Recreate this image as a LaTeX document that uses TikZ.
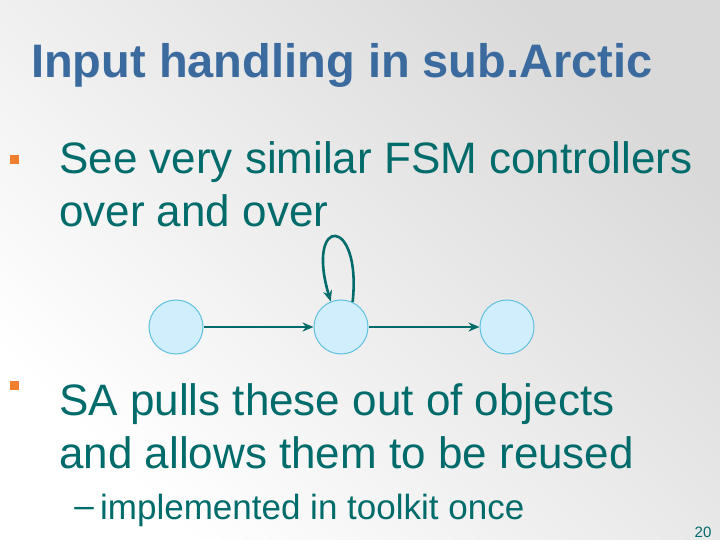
\documentclass[tikz,border=0pt]{standalone}
\usepackage{fontspec}
\setmainfont{Liberation Sans}
\usetikzlibrary{arrows.meta}
\definecolor{titleblue}{HTML}{3A6A9E}
\definecolor{bodyteal}{HTML}{006B6B}
\definecolor{bulletor}{HTML}{F08030}
\definecolor{statefill}{HTML}{D0EEFC}
\definecolor{statedraw}{HTML}{60C0E0}
\tikzset{
  state/.style={circle,draw=statedraw,fill=statefill,line width=1pt,minimum size=54pt,inner sep=0pt},
  trans/.style={draw=bodyteal,line width=2.6pt,-{Stealth[length=11pt,width=9pt]}},
  body/.style={anchor=west,align=left,text=bodyteal,font=\fontsize{44}{53}\selectfont,inner sep=0pt},
  bullet/.style={fill=bulletor,minimum size=9pt,inner sep=0pt}
}
\begin{document}
\begin{tikzpicture}[x=1pt,y=-1pt]
\shade[left color=white,right color=black!15,shading angle=135] (0,0) rectangle (720,540);
\useasboundingbox (0,0) rectangle (720,540);
\node[anchor=west,text=titleblue,font=\bfseries\fontsize{47}{54}\selectfont,inner sep=0pt] (title) at (31,65) {Input handling in sub.Arctic};
\node[bullet] (b1) at (14,160) {};
\node[body] (t1) at (59,184) {See very similar FSM controllers\\over and over};
\node[state] (s1) at (176,327) {};
\node[state] (s2) at (341,327) {};
\node[state] (s3) at (507,327) {};
\draw[trans] (s1) -- (s2);
\draw[trans] (s2) -- (s3);
\draw[trans] (s2.65) .. controls (362,215) and (305,215) .. (s2.112);
\node[bullet] (b2) at (14,385) {};
\node[body] (t2) at (59,426) {SA pulls these out of objects\\and allows them to be reused};
\node[anchor=west,text=bodyteal,font=\fontsize{35}{40}\selectfont,inner sep=0pt] (t3) at (100,510) {implemented in toolkit once};
\node[anchor=east,text=bodyteal,font=\fontsize{35}{40}\selectfont,inner sep=0pt] (dash) at (94,512) {--};
\node[text=bodyteal,font=\fontsize{15}{16}\selectfont] (pg) at (703,532) {20};
\end{tikzpicture}
\end{document}
